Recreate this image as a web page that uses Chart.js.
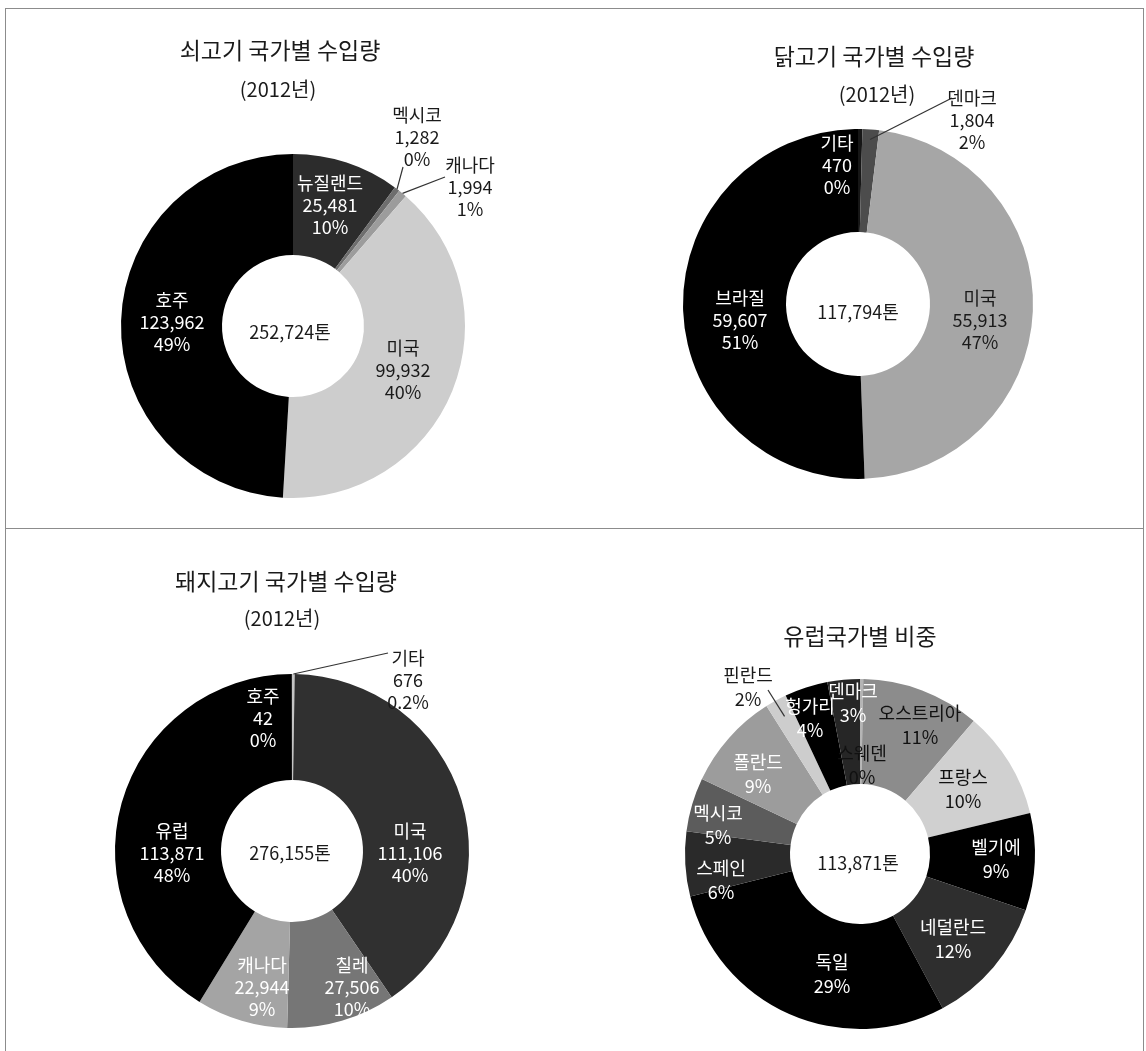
<!DOCTYPE html>
<html>
<head>
<meta charset="utf-8">
<script src="https://cdn.jsdelivr.net/npm/chart.js@4.4.1/dist/chart.umd.min.js"></script>
<style>
  body { margin: 0; background: #fff; }
  #page { position: relative; width: 1146px; height: 1051px; overflow: hidden; font-family: "Noto Sans CJK KR", sans-serif; color: #1a1a1a; }
  .frame { position: absolute; left: 5px; top: 8px; width: 1137px; height: 1100px; border: 1px solid #8c8c8c; }
  .divider { position: absolute; left: 5px; top: 528px; width: 1138px; border-top: 1px solid #8c8c8c; }
  canvas { position: absolute; }
  .t { position: absolute; width: 400px; text-align: center; white-space: nowrap; line-height: 30px; height: 30px; }
  .t1 { font-size: 23px; }
  .t2 { font-size: 20px; }
</style>
</head>
<body>
<div id="page">
  <div class="frame"></div>
  <div class="divider"></div>

  <canvas id="beef" width="573" height="528" style="left:0;top:0"></canvas>
  <canvas id="chicken" width="573" height="528" style="left:573px;top:0"></canvas>
  <canvas id="pork" width="573" height="523" style="left:0;top:528px"></canvas>
  <canvas id="europe" width="573" height="523" style="left:573px;top:528px"></canvas>

  <div class="t t1" style="left:80px;top:34px">쇠고기 국가별 수입량</div>
  <div class="t t2" style="left:78px;top:74px">(2012년)</div>
  <div class="t t1" style="left:674px;top:40px">닭고기 국가별 수입량</div>
  <div class="t t2" style="left:677px;top:79px">(2012년)</div>
  <div class="t t1" style="left:86px;top:565px">돼지고기 국가별 수입량</div>
  <div class="t t2" style="left:82px;top:603px">(2012년)</div>
  <div class="t t1" style="left:660px;top:620px">유럽국가별 비중</div>
</div>

<script>
// ---- data ----
const beefCountries = ['뉴질랜드', '멕시코', '캐나다', '미국', '호주'];
const beefValues = [25481, 1282, 1994, 99932, 123962];
const beefShares = ['10%', '0%', '1%', '40%', '49%'];
const beefTotal = '252,724톤';

const chickenCountries = ['기타', '덴마크', '미국', '브라질'];
const chickenValues = [470, 1804, 55913, 59607];
const chickenShares = ['0%', '2%', '47%', '51%'];
const chickenTotal = '117,794톤';

const porkCountries = ['기타', '미국', '칠레', '캐나다', '유럽', '호주'];
const porkValues = [676, 111106, 27506, 22944, 113871, 42];
const porkShares = ['0.2%', '40%', '10%', '9%', '48%', '0%'];
const porkTotal = '276,155톤';

const europeCountries = ['스웨덴', '오스트리아', '프랑스', '벨기에', '네덜란드', '독일', '스페인', '멕시코', '폴란드', '핀란드', '헝가리', '덴마크'];
const europeValues = [0.3, 11, 10, 9, 12, 29, 6, 5, 9, 2, 4, 3];
const europeShares = ['0%', '11%', '10%', '9%', '12%', '29%', '6%', '5%', '9%', '2%', '4%', '3%'];
const europeTotal = '113,871톤';

// ---- styles ----
const FONT = '"Noto Sans CJK KR", sans-serif';
const beefColors = ['#2c2c2c', '#6e6e6e', '#9c9c9c', '#cdcdcd', '#000000'];
const beefText = ['#fff', '#1a1a1a', '#1a1a1a', '#1a1a1a', '#fff'];
const chickenColors = ['#161616', '#4c4c4c', '#a6a6a6', '#000000'];
const chickenText = ['#fff', '#1a1a1a', '#1a1a1a', '#fff'];
const porkColors = ['#c4c4c4', '#303030', '#767676', '#a4a4a4', '#000000', '#050505'];
const porkText = ['#1a1a1a', '#fff', '#fff', '#fff', '#fff', '#fff'];
const europeColors = ['#b5b5b5', '#8c8c8c', '#d0d0d0', '#000000', '#2e2e2e', '#000000', '#2a2a2a', '#5c5c5c', '#9c9c9c', '#cdcdcd', '#000000', '#262626'];
const europeText = ['#111', '#111', '#111', '#fff', '#fff', '#fff', '#fff', '#fff', '#fff', '#1a1a1a', '#fff', '#fff'];

// label centre offsets from donut centre; optional leader [fromRadius, toDx, toDy]
const beefPlaces = [[37, -121], [124, -189, [172, 110, -159]], [177, -139, [172, 152, -149]], [110, 44], [-121, -4]];
const chickenPlaces = [[-21, -139], [114, -184, [165, 94, -206]], [122, 16], [-118, 16]];
const porkPlaces = [[116, -171, [177, 96, -198]], [118, 2], [60, 136], [-30, 136], [-120, 2], [-29, -133]];
const europePlaces = [[2, -89], [60, -129], [103, -65], [136, 5], [93, 85], [-28, 120], [-139, 26], [-142, -29], [-102, -80], [-112, -167, [157, -92, -164]], [-50, -136], [-7, -151]];

const fmt = v => v.toLocaleString('en-US');

const sliceLabels = {
  id: 'sliceLabels',
  afterDatasetsDraw(chart, args, o) {
    const ctx = chart.ctx;
    const arcs = chart.getDatasetMeta(0).data;
    const cx = arcs[0].x, cy = arcs[0].y;
    ctx.save();
    ctx.font = '18px ' + FONT;
    ctx.textAlign = 'center';
    ctx.textBaseline = 'middle';
    o.lines.forEach((lines, i) => {
      const p = o.places[i];
      if (p[2]) {
        const a = arcs[i];
        const mid = (a.startAngle + a.endAngle) / 2;
        ctx.strokeStyle = '#333';
        ctx.lineWidth = 1.2;
        ctx.beginPath();
        ctx.moveTo(cx + Math.cos(mid) * p[2][0], cy + Math.sin(mid) * p[2][0]);
        ctx.lineTo(cx + p[2][1], cy + p[2][2]);
        ctx.stroke();
      }
      ctx.fillStyle = o.colors[i];
      lines.forEach((t, k) => {
        ctx.fillText(t, cx + p[0], cy + p[1] + (k - (lines.length - 1) / 2) * o.lineH);
      });
    });
    ctx.fillStyle = '#1a1a1a';
    ctx.fillText(o.center, cx + o.centerOff[0], cy + o.centerOff[1]);
    ctx.restore();
  }
};

function makeDonut(id, box, center, radius, cutout, labels, values, colors, opts) {
  const [qw, qh] = box;
  new Chart(document.getElementById(id), {
    type: 'doughnut',
    data: {
      labels: labels,
      datasets: [{
        data: values,
        backgroundColor: colors,
        borderWidth: 0
      }]
    },
    plugins: [sliceLabels],
    options: {
      responsive: false,
      animation: false,
      radius: radius,
      cutout: cutout,
      layout: {
        padding: {
          left: center[0] - radius,
          top: center[1] - radius,
          right: qw - center[0] - radius,
          bottom: qh - center[1] - radius
        }
      },
      plugins: {
        legend: { display: false },
        tooltip: { enabled: false },
        sliceLabels: opts
      }
    }
  });
}

makeDonut('beef', [573, 528], [293, 326], 172, 71, beefCountries, beefValues, beefColors, {
  lines: beefCountries.map((c, i) => [c, fmt(beefValues[i]), beefShares[i]]),
  places: beefPlaces, colors: beefText, lineH: 22, center: beefTotal, centerOff: [-3, 6]
});

makeDonut('chicken', [573, 528], [285, 304], 175, 72, chickenCountries, chickenValues, chickenColors, {
  lines: chickenCountries.map((c, i) => [c, fmt(chickenValues[i]), chickenShares[i]]),
  places: chickenPlaces, colors: chickenText, lineH: 22, center: chickenTotal, centerOff: [0, 8]
});

makeDonut('pork', [573, 523], [292, 323], 177, 71, porkCountries, porkValues, porkColors, {
  lines: porkCountries.map((c, i) => [c, fmt(porkValues[i]), porkShares[i]]),
  places: porkPlaces, colors: porkText, lineH: 22, center: porkTotal, centerOff: [-2, 2]
});

makeDonut('europe', [573, 523], [287, 326], 175, 70, europeCountries, europeValues, europeColors, {
  lines: europeCountries.map((c, i) => [c, europeShares[i]]),
  places: europePlaces, colors: europeText, lineH: 24, center: europeTotal, centerOff: [-2, 9]
});
</script>
</body>
</html>
